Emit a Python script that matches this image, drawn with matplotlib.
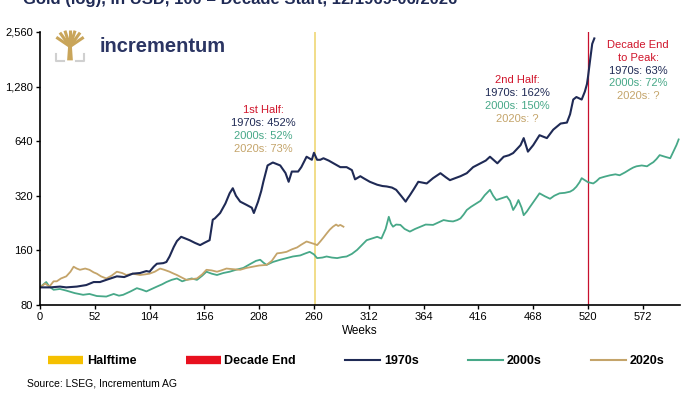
"""Gold in the 1970s, 2000s and 2020s, indexed to 100 at the start of each decade."""
import matplotlib
matplotlib.use("Agg")
import matplotlib.pyplot as plt
from matplotlib.lines import Line2D
from matplotlib.ticker import FixedLocator, NullLocator

plt.rcParams["font.family"] = ["Liberation Sans", "DejaVu Sans"]

# values (weeks since decade start, index level)
weeks_1970s = [0, 10, 19, 25, 35, 44, 51, 57, 63, 73, 80, 88, 95, 101, 104, 108, 111, 117, 120, 123,
               127, 130, 134, 138, 142, 147, 152, 156, 161, 164, 166, 171, 176, 180, 183, 186, 190, 196,
               201, 203, 207, 210, 212, 216, 221, 228, 233, 236, 239, 245, 248, 253, 258, 260, 263, 266,
               269, 274, 278, 285, 291, 296, 299, 304, 307, 313, 320, 325, 329, 334, 338, 343, 347, 349,
               351, 355, 359, 363, 367, 373, 380, 385, 389, 394, 399, 405, 411, 418, 423, 427, 434, 440,
               445, 449, 456, 459, 463, 468, 474, 481, 487, 494, 500, 503, 506, 509, 514, 517, 519, 520,
               522, 524, 526]
gold_1970s = [100, 100, 101, 100, 101, 103, 107, 107, 110, 115, 114, 119, 120, 123, 122, 130, 135, 136, 138, 148,
              167, 180, 190, 186, 182, 176, 171, 176, 182, 236, 240, 257, 290, 330, 352, 320, 297, 285,
              275, 257, 297, 340, 382, 470, 488, 470, 427, 382, 435, 435, 460, 525, 505, 552, 505, 505,
              515, 500, 485, 460, 460, 443, 394, 410, 400, 382, 368, 362, 360, 355, 345, 318, 297, 310,
              322, 350, 382, 378, 374, 400, 426, 405, 390, 400, 410, 426, 460, 483, 500, 525, 483, 525,
              535, 550, 608, 665, 560, 608, 690, 665, 740, 800, 810, 900, 1085, 1120, 1085, 1200, 1320, 1446,
              1790, 2200, 2357]

weeks_2000s = [0, 6, 9, 13, 19, 25, 33, 41, 47, 54, 63, 70, 75, 79, 86, 92, 97, 101, 106, 111, 116, 120,
               125, 130, 135, 139, 144, 149, 154, 158, 163, 168, 174, 180, 186, 193, 200, 205, 209, 212,
               215, 221, 228, 234, 240, 247, 252, 256, 260, 263, 268, 272, 277, 282, 287, 291, 296, 301,
               305, 310, 315, 320, 324, 328, 331, 333, 335, 338, 342, 346, 351, 356, 361, 366, 373, 378,
               383, 388, 392, 396, 399, 402, 405, 409, 414, 418, 422, 427, 430, 433, 438, 443, 446, 449,
               452, 454, 457, 459, 462, 465, 469, 474, 479, 484, 488, 493, 498, 503, 506, 509, 512, 514,
               517, 520, 525, 528, 531, 536, 541, 546, 550, 555, 560, 563, 566, 571, 576, 579, 582, 585,
               588, 593, 598, 601, 604, 606]
gold_2000s = [100, 107, 101, 97, 98, 96, 93, 91, 92, 89.6, 89, 92, 90, 91, 95, 99, 97, 95, 98, 101, 104, 107,
              110, 112, 108, 110, 112, 110, 116, 122, 119, 117, 120, 122, 125, 128, 135, 140, 142, 137,
              133, 138, 142, 145, 148, 150, 154, 157, 152, 145, 146, 148, 146, 145, 147, 148, 153, 161,
              170, 182, 186, 190, 186, 210, 245, 225, 216, 222, 221, 210, 203, 210, 216, 222, 221, 228,
              235, 232, 231, 235, 240, 252, 267, 278, 290, 300, 322, 345, 320, 303, 310, 317, 300, 267,
              285, 303, 275, 250, 262, 278, 300, 330, 318, 308, 320, 330, 332, 337, 345, 359, 380, 400,
              390, 380, 374, 385, 400, 408, 415, 420, 415, 430, 448, 458, 465, 470, 465, 478, 490, 510,
              536, 525, 515, 560, 610, 654]

weeks_2020s = [0, 5, 9, 13, 16, 20, 25, 29, 32, 35, 38, 43, 47, 51, 54, 58, 63, 68, 73, 78, 82, 88, 95,
               100, 104, 109, 114, 118, 123, 127, 130, 135, 139, 144, 149, 154, 158, 163, 168, 172, 177,
               183, 190, 196, 202, 208, 215, 220, 225, 229, 234, 239, 244, 248, 253, 257, 261, 263, 266,
               269, 272, 275, 278, 281, 283, 285, 288]
gold_2020s = [100, 105, 101, 108, 108, 112, 115, 122, 130, 127, 125, 127, 125, 121, 119, 115, 112, 116, 122,
              120, 117, 119, 117, 118, 119, 122, 127, 125, 122, 119, 117, 113, 110, 111, 112, 118, 125,
              124, 122, 124, 127, 126, 125, 128, 130, 132, 133, 140, 154, 155, 157, 162, 166, 172, 179,
              176, 173, 171, 179, 188, 198, 208, 216, 222, 218, 221, 216]

halftime_week = 261
decade_end_week = 520
y_ticks = [80, 160, 320, 640, 1280, 2560]
x_ticks = list(range(0, 573, 52))

navy = "#1f2a55"
teal = "#47a888"
tan = "#c4a46a"
red = "#d0152b"
yellow = "#f5c000"

fig = plt.figure(figsize=(7, 3.94), dpi=100)
ax = fig.add_axes([0.057, 0.226, 0.914, 0.693])

ax.axvline(halftime_week, color="#eed36a", lw=1.1)
ax.axvline(decade_end_week, color="#c8102e", lw=0.9)
ax.plot(weeks_2000s, gold_2000s, color=teal, lw=1.3)
ax.plot(weeks_2020s, gold_2020s, color=tan, lw=1.3)
ax.plot(weeks_1970s, gold_1970s, color=navy, lw=1.5)

ax.set_yscale("log", base=2)
ax.set_ylim(80, 2560)
ax.set_xlim(0, 607)
ax.yaxis.set_major_locator(FixedLocator(y_ticks))
ax.yaxis.set_minor_locator(NullLocator())
ax.set_yticklabels([f"{v:,}" for v in y_ticks])
ax.set_xticks(x_ticks)
ax.tick_params(labelsize=8, length=3, width=1, direction="out", pad=2)
for side in ("top", "right"):
    ax.spines[side].set_visible(False)
for side in ("left", "bottom"):
    ax.spines[side].set_linewidth(1.2)
ax.set_xlabel("Weeks", fontsize=8.5, labelpad=2)

# annotation blocks
def block(x, y, lines, step=13):
    for i, (txt, col) in enumerate(lines):
        fig.text(x / 700, 1 - (y + i * step) / 394, txt, color=col, fontsize=8, ha="center", va="center")

block(263, 110, [("1st Half:", red), ("1970s: 452%", navy), ("2000s: 52%", teal), ("2020s: 73%", tan)])
block(517, 80, [("2nd Half:", red), ("1970s: 162%", navy), ("2000s: 150%", teal), ("2020s: ?", tan)])
block(638, 45, [("Decade End", red), ("to Peak:", red), ("1970s: 63%", navy),
                ("2000s: 72%", teal), ("2020s: ?", tan)], step=12.8)

# title, cut off by the top edge as in the source image
fig.text(23 / 700, 1 - 4 / 394, "Gold (log), in USD, 100 = Decade Start, 12/1969-06/2026",
         fontsize=12, fontweight="bold", color=navy, ha="left", va="baseline")

# logo
logo = fig.add_axes([52 / 700, 1 - 63 / 394, 36 / 700, 33 / 394])
logo.set_xlim(0, 1)
logo.set_ylim(0, 1)
logo.axis("off")
logo.fill([0.42, 0.58, 0.55, 0.45], [0.08, 0.08, 0.55, 0.55], color="#c9a55a", lw=0)
for dx, top in [(-0.38, 0.78), (-0.28, 0.92), (-0.14, 0.98), (0.0, 1.0), (0.14, 0.98), (0.28, 0.92),
                (0.38, 0.78)]:
    logo.plot([0.5, 0.5 + dx], [0.5, top], color="#c9a55a", lw=2.2, solid_capstyle="butt")
logo.plot([0.1, 0.1, 0.33], [0.28, 0.05, 0.05], color="#d0d0d0", lw=1.5)
logo.plot([0.9, 0.9, 0.67], [0.28, 0.05, 0.05], color="#d0d0d0", lw=1.5)
fig.text(100 / 700, 1 - 47 / 394, "incrementum", fontsize=14.5, fontweight="bold",
         color="#2b3563", ha="left", va="center")

handles = [
    Line2D([], [], color=yellow, lw=6, solid_capstyle="butt"),
    Line2D([], [], color="#e8101e", lw=6, solid_capstyle="butt"),
    Line2D([], [], color=navy, lw=1.5),
    Line2D([], [], color=teal, lw=1.5),
    Line2D([], [], color=tan, lw=1.5),
]
fig.legend(handles, ["Halftime", "Decade End", "1970s", "2000s", "2020s"], ncol=5, loc="center",
           bbox_to_anchor=(0.509, 1 - 361 / 394), frameon=False, handlelength=2.8, handletextpad=0.3,
           columnspacing=3.95, prop={"size": 9, "weight": "bold"})

fig.text(27 / 700, 1 - 383 / 394, "Source: LSEG, Incrementum AG", fontsize=7.5, color="black",
         ha="left", va="center")

fig.savefig("out.png", dpi=100)
